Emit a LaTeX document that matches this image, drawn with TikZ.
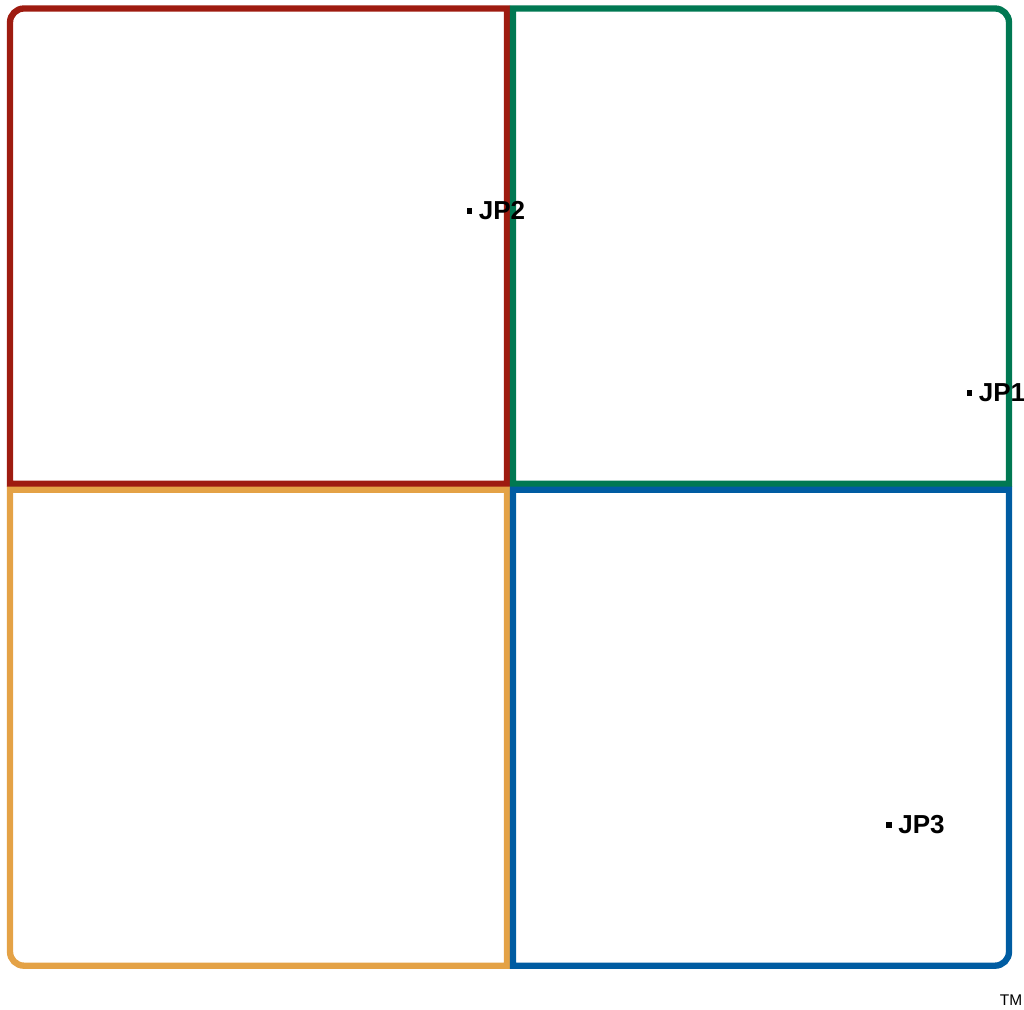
\documentclass[tikz,border=0pt]{standalone}
\usepackage{fontspec}
\setmainfont{Liberation Sans}
\usetikzlibrary{positioning}
\definecolor{quadred}{RGB}{158,27,16}
\definecolor{quadgreen}{RGB}{0,120,82}
\definecolor{quadorange}{RGB}{228,162,70}
\definecolor{quadblue}{RGB}{0,92,162}
\begin{document}
\begin{tikzpicture}[
    x=0.025cm, y=0.025cm,
    node distance=4.2pt,
    quad/.style={line width=4.5pt},
    pin/.style={fill=black,inner sep=0pt,minimum size=4pt},
    tag/.style={font=\bfseries\fontsize{18.5}{18.5}\selectfont,inner sep=0pt}
]
\useasboundingbox (0,0) rectangle (1024,1010);
% four quadrants, only the outer corner rounded
\draw[quad,quadred] (507,1001.5) -- (24,1001.5) arc[start angle=90,end angle=180,radius=14]
    -- (10,526.3) -- (507,526.3) -- cycle;
\draw[quad,quadgreen] (513,1001.5) -- (995,1001.5) arc[start angle=90,end angle=0,radius=14]
    -- (1009,526.3) -- (513,526.3) -- cycle;
\draw[quad,quadorange] (507,44.3) -- (24,44.3) arc[start angle=270,end angle=180,radius=14]
    -- (10,520.3) -- (507,520.3) -- cycle;
\draw[quad,quadblue] (513,44.3) -- (995,44.3) arc[start angle=270,end angle=360,radius=14]
    -- (1009,520.3) -- (513,520.3) -- cycle;
% jumper pins
\node[pin] (p2) at (469.5,799) {};
\node[tag,right=of p2] (jp2) {JP2};
\node[pin] (p1) at (969.5,617) {};
\node[tag,right=of p1] (jp1) {JP1};
\node[pin] (p3) at (889,185) {};
\node[tag,right=of p3] (jp3) {JP3};
\node[font=\fontsize{11}{11}\selectfont,inner sep=0pt] (tm) at (1011,10) {TM};
\end{tikzpicture}
\end{document}
